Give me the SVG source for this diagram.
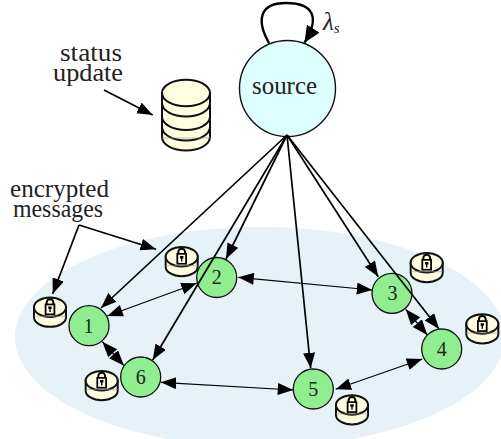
<svg xmlns="http://www.w3.org/2000/svg" width="501" height="439" viewBox="0 0 501 439">
<style>
text{font-family:"Liberation Serif","Times New Roman",serif;fill:#222;text-anchor:middle}
.lab{font-size:25px}
.num{font-size:20px}
.node{fill:#90ee90;stroke:#111;stroke-width:1.3}
.cyl{fill:#fffde0;stroke:#111;stroke-width:2}
.arc{fill:none;stroke:#111;stroke-width:2}
.thin{fill:none;stroke:#999;stroke-width:.6}
.e1{fill:none;stroke:#000;stroke-width:1.7;marker-end:url(#ah)}
.e2{fill:none;stroke:#000;stroke-width:1.2;marker-start:url(#ahs);marker-end:url(#ah)}
</style>
<defs>
<marker id="ah" markerUnits="userSpaceOnUse" markerWidth="17" markerHeight="14" refX="15.500" refY="6" orient="auto"><path d="M0 0L15.500 6L0 12Z" fill="#000"/></marker>
<marker id="ahs" markerUnits="userSpaceOnUse" markerWidth="17" markerHeight="14" refX="0" refY="6" orient="auto"><path d="M15.500 0L0 6L15.500 12Z" fill="#000"/></marker>
<marker id="ahl" markerUnits="userSpaceOnUse" markerWidth="18" markerHeight="16" refX="16.500" refY="7.500" orient="auto"><path d="M0 0L16.500 7.500L0 15Z" fill="#000"/></marker>
<g id="lockdb">
<path class="cyl" d="M-16 10V20A16 9.500 0 0 0 16 20V10Z"/>
<ellipse class="cyl" cx="0" cy="10" rx="16" ry="9.700"/>
<path class="thin" d="M-16 19H16"/>
<path d="M-3.400 8V5.400A3.400 3.400 0 0 1 3.400 5.400V8" fill="none" stroke="#000" stroke-width="2"/>
<rect x="-5.300" y="6.300" width="10.600" height="11.600" fill="#000"/>
<rect x="-3.500" y="8" width="7" height="8.200" fill="#fffde0"/>
<path d="M-1.700 9.300h3.400v2.400h-1v3h-1.400v-3h-1Z" fill="#000"/>
</g>
</defs>
<g id="region"><ellipse cx="260" cy="337" rx="245" ry="110" fill="#e6f1f8"/></g>
<g id="source"><circle cx="287.500" cy="88.500" r="48" fill="#dfffff" stroke="#111" stroke-width="1.400"/><text class="lab" x="284.500" y="94" textLength="65" lengthAdjust="spacingAndGlyphs">source</text></g>
<g id="database">
<path class="cyl" d="M162 93V137A24 13.500 0 0 0 210 137V93Z"/>
<ellipse class="cyl" cx="186" cy="93" rx="24" ry="13.300"/>
<path class="arc" d="M162 103A24 13.500 0 0 0 210 103M162 116.500A24 13.500 0 0 0 210 116.500M162 127A24 13.500 0 0 0 210 127"/>
<path class="thin" d="M162 138H210"/>
</g>
<g id="db1"><use href="#lockdb" x="50" y="297.300"/></g>
<g id="db2"><use href="#lockdb" x="181.700" y="246.700"/></g>
<g id="db3"><use href="#lockdb" x="426.700" y="252.700"/></g>
<g id="db4"><use href="#lockdb" x="482.300" y="314"/></g>
<g id="db5"><use href="#lockdb" x="352" y="395"/></g>
<g id="db6"><use href="#lockdb" x="101.700" y="370.700"/></g>
<g id="node1"><circle class="node" cx="89" cy="325.700" r="20"/><text class="num" x="88.500" y="332.500">1</text></g>
<g id="node2"><circle class="node" cx="216.700" cy="277.500" r="20"/><text class="num" x="216.700" y="284.300">2</text></g>
<g id="node3"><circle class="node" cx="392" cy="293.300" r="20"/><text class="num" x="392.500" y="300">3</text></g>
<g id="node4"><circle class="node" cx="441.700" cy="349" r="20"/><text class="num" x="441.700" y="355.800">4</text></g>
<g id="node5"><circle class="node" cx="313.300" cy="389" r="20"/><text class="num" x="313.300" y="395.800">5</text></g>
<g id="node6"><circle class="node" cx="140.700" cy="377" r="20"/><text class="num" x="140.700" y="383.800">6</text></g>
<g id="connectors">
<path d="M269 43C257 22 258 3 286 3C314 3 320 18 304.500 42.700" fill="none" stroke="#000" stroke-width="2.400" marker-end="url(#ahl)"/>
<path class="e1" d="M287 135L101 308"/>
<path class="e1" d="M287 135L226 259"/>
<path class="e1" d="M287 135L152.700 360"/>
<path class="e1" d="M287 135L310.700 368.300"/>
<path class="e1" d="M287 135L378.300 276.700"/>
<path class="e1" d="M287 135L439 329"/>
<path class="e2" d="M107.300 316L196.700 283.300"/>
<path class="e2" d="M102.300 341.700L124 365.700"/>
<path class="e2" d="M238.300 277.300L372.300 290"/>
<path class="e2" d="M405.700 309.300L427.300 335"/>
<path class="e2" d="M422.300 359L335.700 389.300"/>
<path class="e2" d="M293.300 390L160.700 382.300"/>
<path class="e1" d="M104 90L152.700 115"/>
<path class="e1" d="M79 225L52.700 294"/>
<path class="e1" d="M79 225L156 249.300"/>
</g>
<g id="labels">
<text class="lab" x="91" y="61" textLength="62" lengthAdjust="spacingAndGlyphs">status</text>
<text class="lab" x="88" y="81" textLength="70" lengthAdjust="spacingAndGlyphs">update</text>
<text class="lab" x="59.500" y="197" textLength="99" lengthAdjust="spacingAndGlyphs">encrypted</text>
<text class="lab" x="58" y="217" textLength="90" lengthAdjust="spacingAndGlyphs">messages</text>
<text x="323" y="30" style="font-size:25px;font-style:italic;text-anchor:start">λ<tspan dy="3" style="font-size:15px">s</tspan></text>
</g>
</svg>
